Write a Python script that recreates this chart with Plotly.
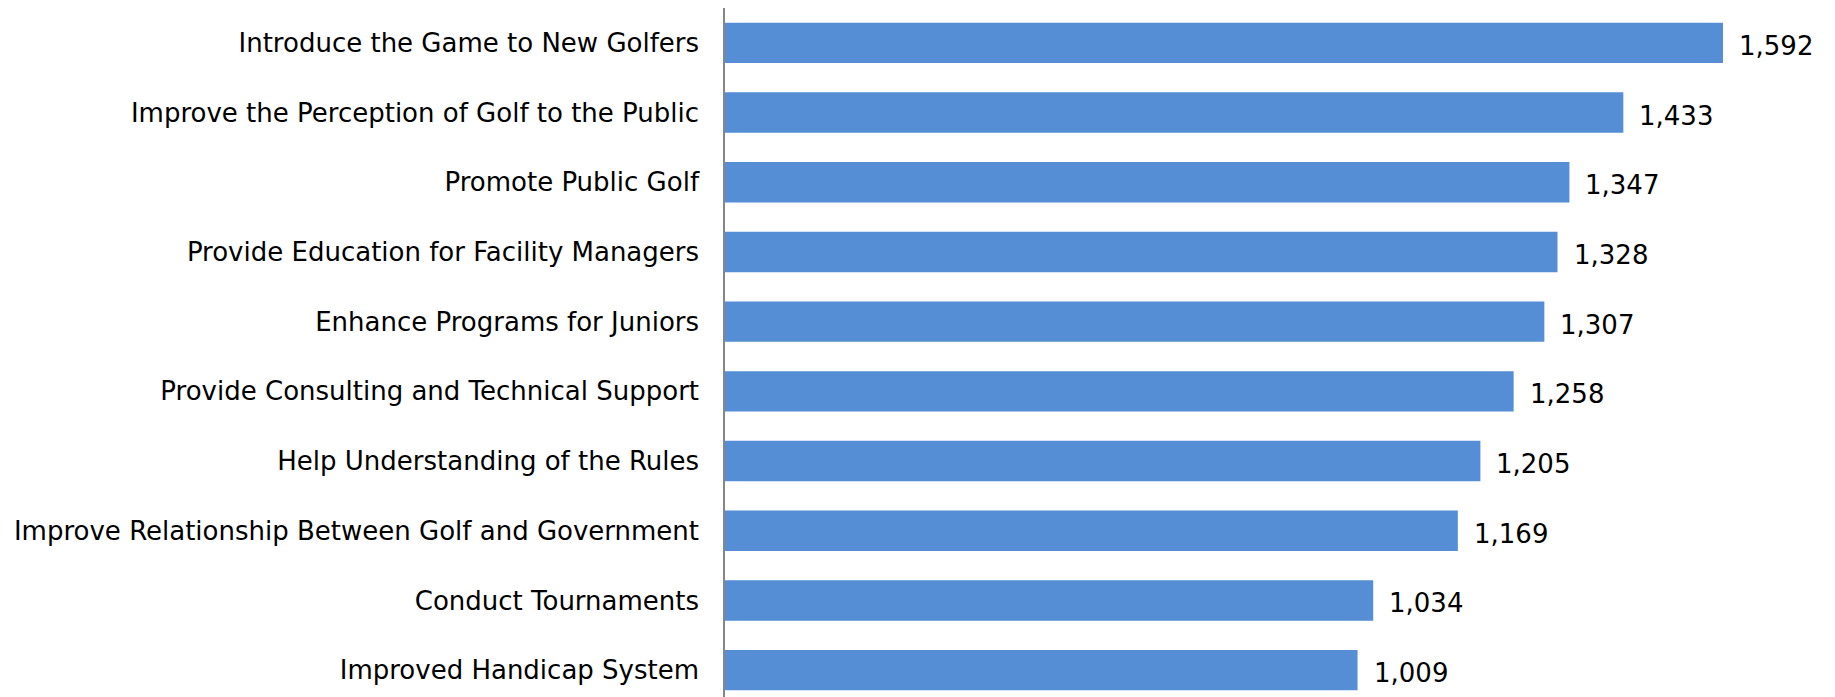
import plotly.graph_objects as go

categories = [
    "Introduce the Game to New Golfers",
    "Improve the Perception of Golf to the Public",
    "Promote Public Golf",
    "Provide Education for Facility Managers",
    "Enhance Programs for Juniors",
    "Provide Consulting and Technical Support",
    "Help Understanding of the Rules",
    "Improve Relationship Between Golf and Government",
    "Conduct Tournaments",
    "Improved Handicap System",
]
values = [1592, 1433, 1347, 1328, 1307, 1258, 1205, 1169, 1034, 1009]

fig = go.Figure(go.Bar(
    y=categories,
    x=values,
    orientation="h",
    marker=dict(color="#558ed5", line=dict(width=0)),
    hoverinfo="x+y",
))

for c, v in zip(categories, values):
    fig.add_annotation(
        x=v, y=c, text=f"{v:,}", showarrow=False,
        xanchor="left", yanchor="middle", xshift=14, yshift=-3,
        font=dict(family="DejaVu Sans", size=26, color="#000000"),
    )

fig.update_layout(
    width=1835, height=697,
    margin=dict(l=717, r=41, t=0, b=0),
    paper_bgcolor="white", plot_bgcolor="white",
    bargap=0.42,
    showlegend=False,
    font=dict(family="DejaVu Sans", size=26, color="#000000"),
)
fig.update_xaxes(range=[0, 1718], showticklabels=False, showgrid=False, zeroline=False,
                 showline=False, automargin=False)
fig.update_yaxes(autorange="reversed", showline=True, linecolor="#868686", linewidth=1.5,
                 ticks="", showgrid=False, ticklabelstandoff=19, automargin=False,
                 tickfont=dict(family="DejaVu Sans", size=26, color="#000000"))

fig.write_html("out.html")
